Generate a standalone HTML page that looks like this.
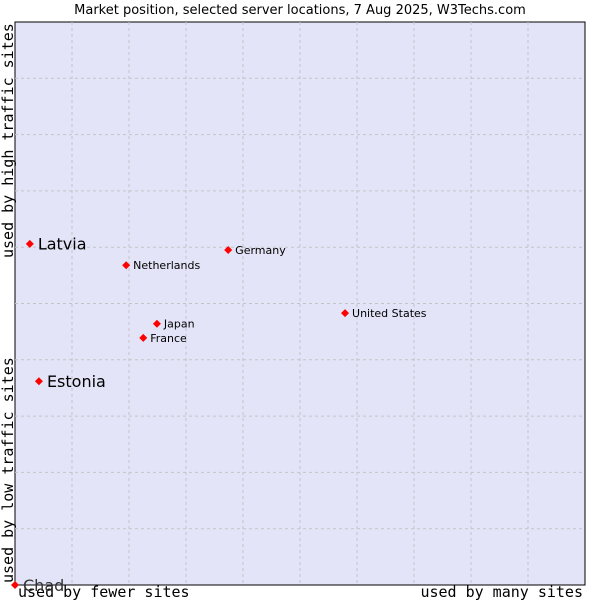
<!DOCTYPE html>
<html><head><meta charset="utf-8"><style>
body{margin:0;background:#fff}
svg{display:block;font-family:"DejaVu Sans","Liberation Sans",sans-serif}
</style></head><body>
<svg width="600" height="600" viewBox="0 0 600 600">
<text x="300" y="14" text-anchor="middle" font-size="13" fill="#000">Market position, selected server locations, 7 Aug 2025, W3Techs.com</text>
<rect x="15" y="22" width="570" height="563" fill="#e3e4f8" stroke="#000" stroke-width="1"/>
<g id="grid"></g>
<text x="18" y="597" font-family="'DejaVu Sans Mono','Liberation Mono',monospace" font-size="15">used by fewer sites</text>
<text x="583" y="597" text-anchor="end" font-family="'DejaVu Sans Mono','Liberation Mono',monospace" font-size="15">used by many sites</text>
<text transform="translate(13,583) rotate(-90)" font-family="'DejaVu Sans Mono','Liberation Mono',monospace" font-size="15">used by low traffic sites</text>
<text transform="translate(13,258) rotate(-90)" font-family="'DejaVu Sans Mono','Liberation Mono',monospace" font-size="15">used by high traffic sites</text>
<g id="points"></g>
</svg>
<script>
const countries=["Chad","Latvia","Estonia","Netherlands","Germany","Japan","France","United States"];
const xValues=[0,2.6,4.2,19.5,37.4,24.9,22.5,57.9];
const yValues=[0,60.6,36.2,56.8,59.5,46.4,43.9,48.3];
const labelSizes=[16,16,16,11,11,11,11,11];
const NS="http://www.w3.org/2000/svg";
const L=15,T=22,W=570,H=563;
const xs=v=>L+v/100*W, ys=v=>T+H-v/100*H;
const grid=document.getElementById('grid');
for(let i=1;i<10;i++){
 const a=document.createElementNS(NS,'line');
 
 
 a.setAttribute('x1',xs(i*10));a.setAttribute('x2',xs(i*10));a.setAttribute('y1',T);a.setAttribute('y2',T+H);
 a.setAttribute('stroke','#c4c4c8');a.setAttribute('stroke-dasharray','3,3');grid.appendChild(a);
 const b=document.createElementNS(NS,'line');
 
 
 b.setAttribute('y1',ys(i*10));b.setAttribute('y2',ys(i*10));b.setAttribute('x1',L);b.setAttribute('x2',L+W);
 b.setAttribute('stroke','#c4c4c8');b.setAttribute('stroke-dasharray','3,3');grid.appendChild(b);
}
const pts=document.getElementById('points');
countries.forEach((c,i)=>{
 const x=xs(xValues[i]),y=ys(yValues[i]);
 const p=document.createElementNS(NS,'path');
 
 
 p.setAttribute('d',`M${x-4},${y}L${x},${y-4}L${x+4},${y}L${x},${y+4}Z`);
 p.setAttribute('fill','#f00');
 pts.appendChild(p);
 const t=document.createElementNS(NS,'text');
 
 
 t.setAttribute('x',x+(labelSizes[i]>12?8:7));t.setAttribute('y',y+labelSizes[i]*0.36);
 t.setAttribute('font-size',labelSizes[i]);
 t.setAttribute('fill',c==="Chad"?'#333':'#000');
 t.textContent=c;pts.appendChild(t);
});
</script>
</body></html>
